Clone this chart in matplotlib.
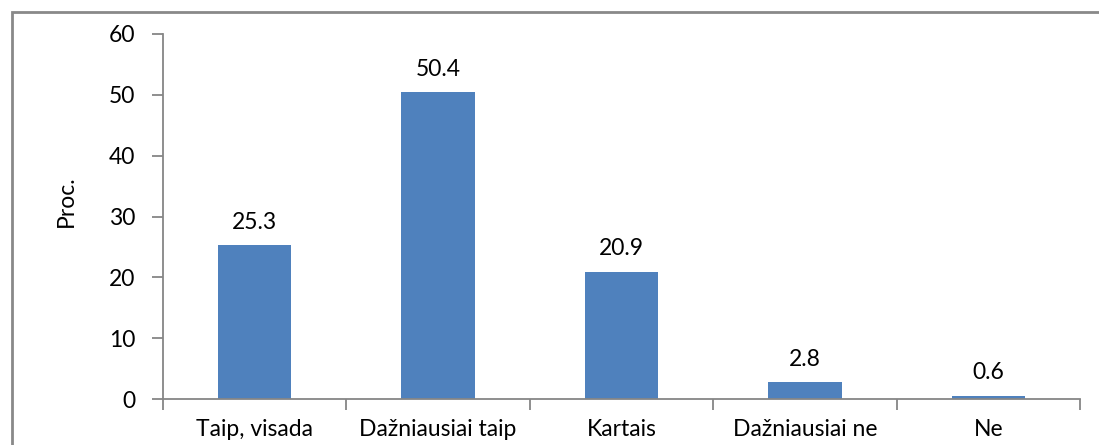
import numpy as np
import matplotlib.pyplot as plt
from matplotlib.patches import Rectangle

# Survey answers and their shares (percent)
categories = ['Taip, visada', 'Dažniausiai taip', 'Kartais', 'Dažniausiai ne', 'Ne']
values = [25.3, 50.4, 20.9, 2.8, 0.6]
yticks = [0, 10, 20, 30, 40, 50, 60]

plt.rcParams['font.family'] = ['Lato', 'DejaVu Sans']

W, H = 1099, 445
fig = plt.figure(figsize=(W / 100, H / 100), dpi=100)
ax = fig.add_axes([163 / W, 1 - 399.3 / H, (1080 - 163) / W, (399.3 - 33.8) / H])

axis_grey = '#868686'
fs = 16.5
x = np.arange(len(categories))
ax.bar(x, values, width=0.4, color='#4F81BD')

# value labels above bars
for xi, v in zip(x, values):
    ax.annotate(f'{v:.1f}', (xi, v), xytext=(0, 9), textcoords='offset points',
                ha='center', va='bottom', fontsize=fs)

ax.set_xlim(-0.5, len(categories) - 0.5)
ax.set_ylim(0, 60)
ax.set_yticks(yticks)
ax.set_yticklabels([str(t) for t in yticks], fontsize=fs)

# ticks between categories, labels at centers
ax.set_xticks(np.arange(len(categories) + 1) - 0.5)
ax.set_xticklabels([])
ax.set_xticks(x, minor=True)
ax.set_xticklabels(categories, minor=True, fontsize=fs)
ax.tick_params(axis='x', which='major', direction='out', length=8, width=1.3, color=axis_grey)
ax.tick_params(axis='x', which='minor', length=0, pad=14)
ax.tick_params(axis='y', direction='out', length=8, width=1.3, color=axis_grey, pad=12)

for side in ['top', 'right']:
    ax.spines[side].set_visible(False)
for side in ['left', 'bottom']:
    ax.spines[side].set_color(axis_grey)
    ax.spines[side].set_linewidth(1.3)

ax.set_ylabel('Proc.', fontsize=fs)
ax.yaxis.set_label_coords(-86 / (1080 - 163), 0.543)

# outer chart border, partly cut off at right and bottom
fig.patches.append(Rectangle((12 / W, -0.1), 1.2, 1 - 12 / H + 0.1, transform=fig.transFigure,
                             fill=False, edgecolor='#898989', linewidth=2))

fig.savefig('out.png', dpi=100)
